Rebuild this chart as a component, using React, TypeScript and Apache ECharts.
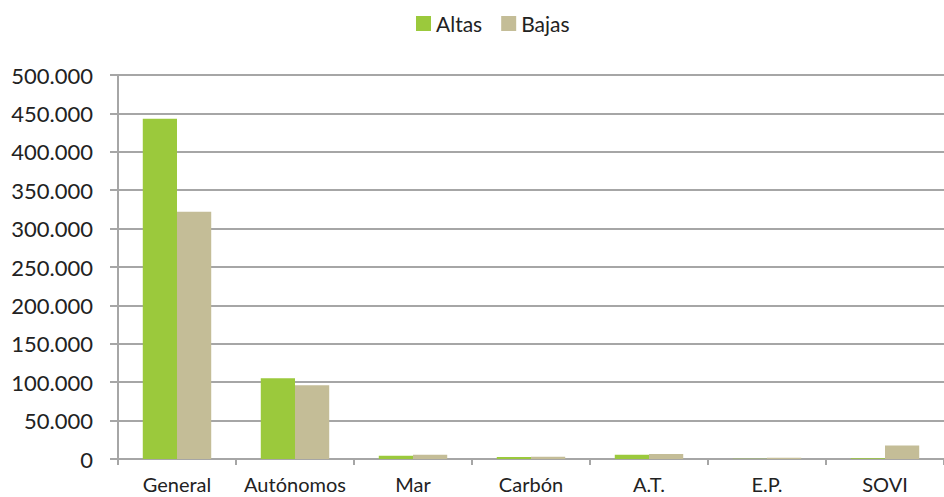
import React, { useEffect, useRef } from "react";
import * as echarts from "echarts";

const categories = ["General", "Autónomos", "Mar", "Carbón", "A.T.", "E.P.", "SOVI"];
const altas = [443000, 105000, 4300, 2600, 5600, 300, 1000];
const bajas = [322000, 96000, 5600, 3000, 6500, 1500, 17700];

const fmt = (v: number) => (v === 0 ? "0" : v.toLocaleString("de-DE"));

export default function App() {
  const ref = useRef<HTMLDivElement>(null);
  useEffect(() => {
    const chart = echarts.init(ref.current!, null, { renderer: "svg" });
    const font = "Lato";
    const gray = "#A6A6A6";
    chart.setOption({
      animation: false,
      textStyle: { fontFamily: font },
      legend: {
        top: 8,
        left: 411,
        itemWidth: 15,
        itemHeight: 15,
        itemGap: 19,
        icon: "rect",
        textStyle: { fontFamily: font, fontSize: 21, color: "#222" },
        data: ["Altas", "Bajas"],
      },
      grid: { left: 118, right: 0, top: 75, bottom: 38, containLabel: false },
      xAxis: {
        type: "category",
        data: categories,
        axisLine: { lineStyle: { color: gray, width: 2 } },
        axisTick: { show: true, length: 6, lineStyle: { color: gray, width: 2 } },
        axisLabel: { fontFamily: font, fontSize: 20, color: "#222", margin: 15, interval: 0 },
      },
      yAxis: {
        type: "value",
        min: 0,
        max: 500000,
        interval: 50000,
        axisLine: { show: true, lineStyle: { color: gray, width: 2 } },
        axisTick: { show: true, length: 8, lineStyle: { color: gray, width: 2 } },
        splitLine: { lineStyle: { color: gray, width: 2 } },
        axisLabel: { fontFamily: font, fontSize: 22, color: "#222", margin: 25, formatter: fmt },
      },
      series: [
        {
          name: "Altas",
          type: "bar",
          data: altas,
          barGap: "0%",
          barCategoryGap: "42%",
          itemStyle: { color: "#9BC93C" },
        },
        {
          name: "Bajas",
          type: "bar",
          data: bajas,
          barGap: "0%",
          barCategoryGap: "42%",
          itemStyle: { color: "#C4BD97" },
        },
      ],
    });
    return () => chart.dispose();
  }, []);
  return <div ref={ref} style={{ width: 944, height: 497, position: "absolute", left: 0, top: 0 }} />;
}
